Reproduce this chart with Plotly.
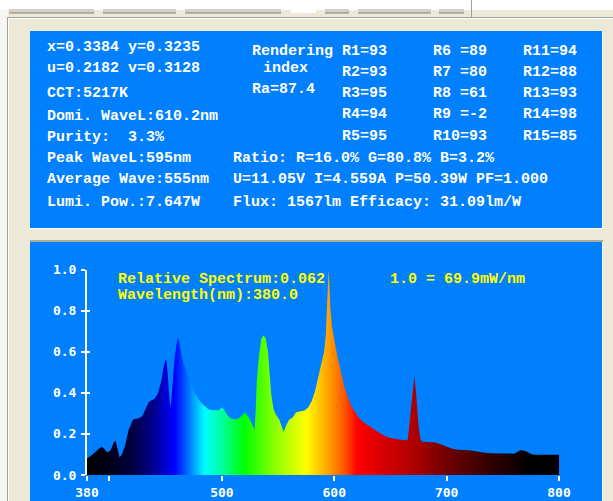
import plotly.graph_objects as go

W, H = 613, 501

# ---------------- data ----------------
wavelength = [380, 385, 390, 393, 395, 398, 401, 404, 405.5, 407, 409, 411, 414, 417, 419, 421,
              425, 429, 432, 435, 438, 440, 443, 446, 448, 450, 451, 452.5, 454, 455, 456.5,
              458, 459.5, 461, 462.5, 464, 466, 469, 472, 475, 478, 481, 485, 488, 492, 497,
              500.5, 503, 505, 508, 512, 515, 518, 520, 522, 525, 527, 529, 530, 531, 533, 535,
              537, 539, 541, 542.5, 544, 546, 548, 551, 553, 555, 557, 560, 563, 566, 570, 574,
              577, 580, 583, 586, 589, 591, 592.5, 593.5, 594.5, 595, 595.7, 596.5, 598, 600,
              602, 604, 606, 609, 612, 615, 618, 621, 625, 629, 632, 636, 640, 645, 650, 655,
              660, 664, 665.5, 667, 668.5, 670, 671.3, 672.5, 673.5, 675, 676.5, 678, 682, 690,
              695, 700, 705, 710, 720, 730, 735, 745, 755, 760, 763, 766, 769, 772, 776, 780, 800]
relative = [0.08, 0.10, 0.125, 0.138, 0.13, 0.11, 0.12, 0.16, 0.165, 0.13, 0.085, 0.10, 0.145, 0.22, 0.25, 0.27,
            0.275, 0.285, 0.32, 0.355, 0.365, 0.37, 0.395, 0.455, 0.52, 0.565, 0.55, 0.44, 0.33, 0.36, 0.49,
            0.57, 0.63, 0.67, 0.64, 0.585, 0.54, 0.495, 0.45, 0.41, 0.38, 0.355, 0.335, 0.32, 0.315, 0.315,
            0.33, 0.305, 0.29, 0.275, 0.27, 0.275, 0.29, 0.305, 0.295, 0.27, 0.245, 0.22, 0.30, 0.45, 0.58, 0.66,
            0.68, 0.665, 0.60, 0.50, 0.39, 0.32, 0.295, 0.27, 0.24, 0.21, 0.24, 0.27, 0.28, 0.305, 0.31, 0.315,
            0.33, 0.36, 0.41, 0.48, 0.55, 0.60, 0.68, 0.80, 0.92, 1.0, 0.93, 0.82, 0.72, 0.65,
            0.60, 0.55, 0.50, 0.43, 0.38, 0.34, 0.31, 0.285, 0.26, 0.245, 0.235, 0.22, 0.205, 0.19, 0.18, 0.175,
            0.17, 0.168, 0.175, 0.25, 0.33, 0.42, 0.48, 0.42, 0.34, 0.24, 0.18, 0.162, 0.16, 0.158,
            0.148, 0.138, 0.128, 0.123, 0.12, 0.112, 0.107, 0.105, 0.104, 0.104, 0.112, 0.122, 0.118, 0.112, 0.100, 0.098, 0.098]

x_tickvals = [380, 400, 500, 600, 700, 800]
x_ticktext = ["380", "", "500", "600", "700", "800"]
y_tickvals = [0.0, 0.2, 0.4, 0.6, 0.8, 1.0]
y_ticktext = ["0.0", "0.2", "0.4", "0.6", "0.8", "1.0"]

# colour of the spectrum at each wavelength (nm, colour)
spectrum_colors = [(380, "#000000"), (400, "#000018"), (420, "#000040"), (440, "#000090"),
                   (452, "#0000e0"), (458, "#0000ff"), (465, "#0040ff"), (475, "#00a0ff"),
                   (485, "#00ffff"), (500, "#00ffa0"), (520, "#00ff00"), (545, "#80ff00"),
                   (575, "#ffff00"), (595, "#ffa000"), (610, "#ff5000"), (620, "#ff0000"),
                   (645, "#d40000"), (670, "#b00000"), (700, "#700000"), (740, "#300000"),
                   (775, "#000000"), (800, "#000000")]

info_left = [("x=0.3384 y=0.3235", 48), ("u=0.2182 v=0.3128", 69), ("CCT:5217K", 94),
             ("Domi. WaveL:610.2nm", 116), ("Purity:  3.3%", 137), ("Peak WaveL:595nm", 159),
             ("Average Wave:555nm", 180), ("Lumi. Pow.:7.647W", 202)]
rendering = [("Rendering", 250, 52), ("index", 261, 68), ("Ra=87.4", 250, 89)]
r_col1 = ["R1=93", "R2=93", "R3=95", "R4=94", "R5=95"]
r_col2 = ["R6 =89", "R7 =80", "R8 =61", "R9 =-2", "R10=93"]
r_col3 = ["R11=94", "R12=88", "R13=93", "R14=98", "R15=85"]
r_rows_y = [52, 73, 94, 115, 136]
info_right = [("Ratio: R=16.0% G=80.8% B=3.2%", 159),
              ("U=11.05V I=4.559A P=50.39W PF=1.000", 180),
              ("Flux: 1567lm Efficacy: 31.09lm/W", 202)]
chart_text = [("Relative Spectrum:0.062", 116, 279), ("Wavelength(nm):380.0", 116, 295),
              ("1.0 = 69.9mW/nm", 388, 279)]

# ---------------- helpers ----------------
def px(x):
    return x / W

def py(y):
    return 1 - y / H

GRAY = "#ECE9D8"
BLUE = "#0080FF"
FONT = "Liberation Mono"

shapes = []
def rect(x0, y0, x1, y1, color):
    shapes.append(dict(type="rect", xref="paper", yref="paper", x0=px(x0), x1=px(x1),
                       y0=py(y1), y1=py(y0), fillcolor=color, line=dict(width=0),
                       layer="below"))

def hline(x0, x1, y, color, w=1):
    shapes.append(dict(type="line", xref="paper", yref="paper", x0=px(x0), x1=px(x1),
                       y0=py(y), y1=py(y), line=dict(color=color, width=w), layer="below"))

def vline(x, y0, y1, color, w=1):
    shapes.append(dict(type="line", xref="paper", yref="paper", x0=px(x), x1=px(x),
                       y0=py(y0), y1=py(y1), line=dict(color=color, width=w), layer="below"))

# window chrome
rect(0, 0, W, 10, "#FFFFFF")
rect(0, 10, 8, H, "#F6F6F2")
for a, b in [(9, 94), (103, 176), (185, 281), (325, 349), (358, 431), (439, 464)]:
    rect(a, 9, b, 13, "#D4D0C8")
    hline(a, b, 13, "#808080")
rect(291, 9, 316, 13, "#FFFFFF")
vline(471.5, 0, 17, "#A0A0A0")
hline(8, W, 17.5, "#A0A0A0")
hline(9, W, 18.5, "#FFFFFF")
vline(7.5, 17, H, "#A0A0A0")
vline(8.5, 18, H, "#FFFFFF")

# blue panels
rect(30, 31, 602, 228, BLUE)
hline(30, 603, 228.5, "#FFFFFF")
vline(602.5, 31, 229, "#FFFFFF")
rect(30, 242, 602, H, BLUE)
hline(30, 603, 241, "#9A9484", 1.5)
vline(602.5, 242, H, "#FFFFFF")

# ---------------- figure ----------------
colorscale = [[(wl - 380) / 420, c] for wl, c in spectrum_colors]

fig = go.Figure()
fig.add_trace(go.Scatter(
    x=wavelength, y=relative, mode="lines",
    line=dict(width=0, color="rgba(0,0,0,0)"),
    fill="tozeroy",
    fillgradient=dict(type="horizontal", colorscale=colorscale, start=380, stop=800),
    hoverinfo="skip", showlegend=False))
fig.add_trace(go.Scatter(x=[None], y=[None], yaxis="y2", showlegend=False, hoverinfo="skip"))

tickfont = dict(family="DejaVu Sans Mono", size=13, color="#FFFFFF", weight="bold")
fig.update_layout(
    width=W, height=H,
    margin=dict(l=0, r=0, t=0, b=0, pad=0, autoexpand=False),
    paper_bgcolor=GRAY, plot_bgcolor="rgba(0,0,0,0)",
    showlegend=False,
    shapes=shapes,
    xaxis=dict(range=[380, 800], domain=[px(87), px(559)], showgrid=False, zeroline=False,
               showline=False, ticks="outside", ticklen=5, tickwidth=2, tickcolor="#FFFFFF",
               tickvals=x_tickvals, ticktext=x_ticktext, tickfont=tickfont, fixedrange=True,
               automargin=False),
    yaxis=dict(range=[0, 1.0], domain=[py(475), py(269.5)], showgrid=False, zeroline=False,
               showline=True, linecolor="#FFFFFF", linewidth=2, ticks="outside", ticklen=4,
               tickwidth=2, tickcolor="#FFFFFF", tickvals=y_tickvals, ticktext=y_ticktext,
               tickfont=tickfont, ticklabelstandoff=2, fixedrange=True, automargin=False),
    yaxis2=dict(range=[0, 1.0], domain=[py(475), py(269.5)], overlaying="y", side="left",
                showgrid=False, zeroline=False, showline=False, ticks="inside", ticklen=3,
                tickwidth=2, tickcolor="#FFFFFF", tickvals=y_tickvals, showticklabels=False,
                fixedrange=True, automargin=False),
)

ann = []
def text(t, x, y, color="#FFFFFF", size=15):
    ann.append(dict(text=t, x=px(x), y=py(y), xref="paper", yref="paper", xanchor="left",
                    yanchor="middle", showarrow=False,
                    font=dict(family=FONT, size=size, color=color, weight="bold")))

for t, y in info_left:
    text(t, 45, y)
for t, x, y in rendering:
    text(t, x, y)
for col, x in [(r_col1, 340), (r_col2, 431), (r_col3, 521)]:
    for t, y in zip(col, r_rows_y):
        text(t, x, y)
for t, y in info_right:
    text(t, 231, y)
for t, x, y in chart_text:
    text(t, x, y, color="#FFFF00")

fig.update_layout(annotations=ann)
fig.write_html("out.html", config={"displayModeBar": False},
               post_script="document.body.style.margin='0';document.body.style.overflow='hidden';")
